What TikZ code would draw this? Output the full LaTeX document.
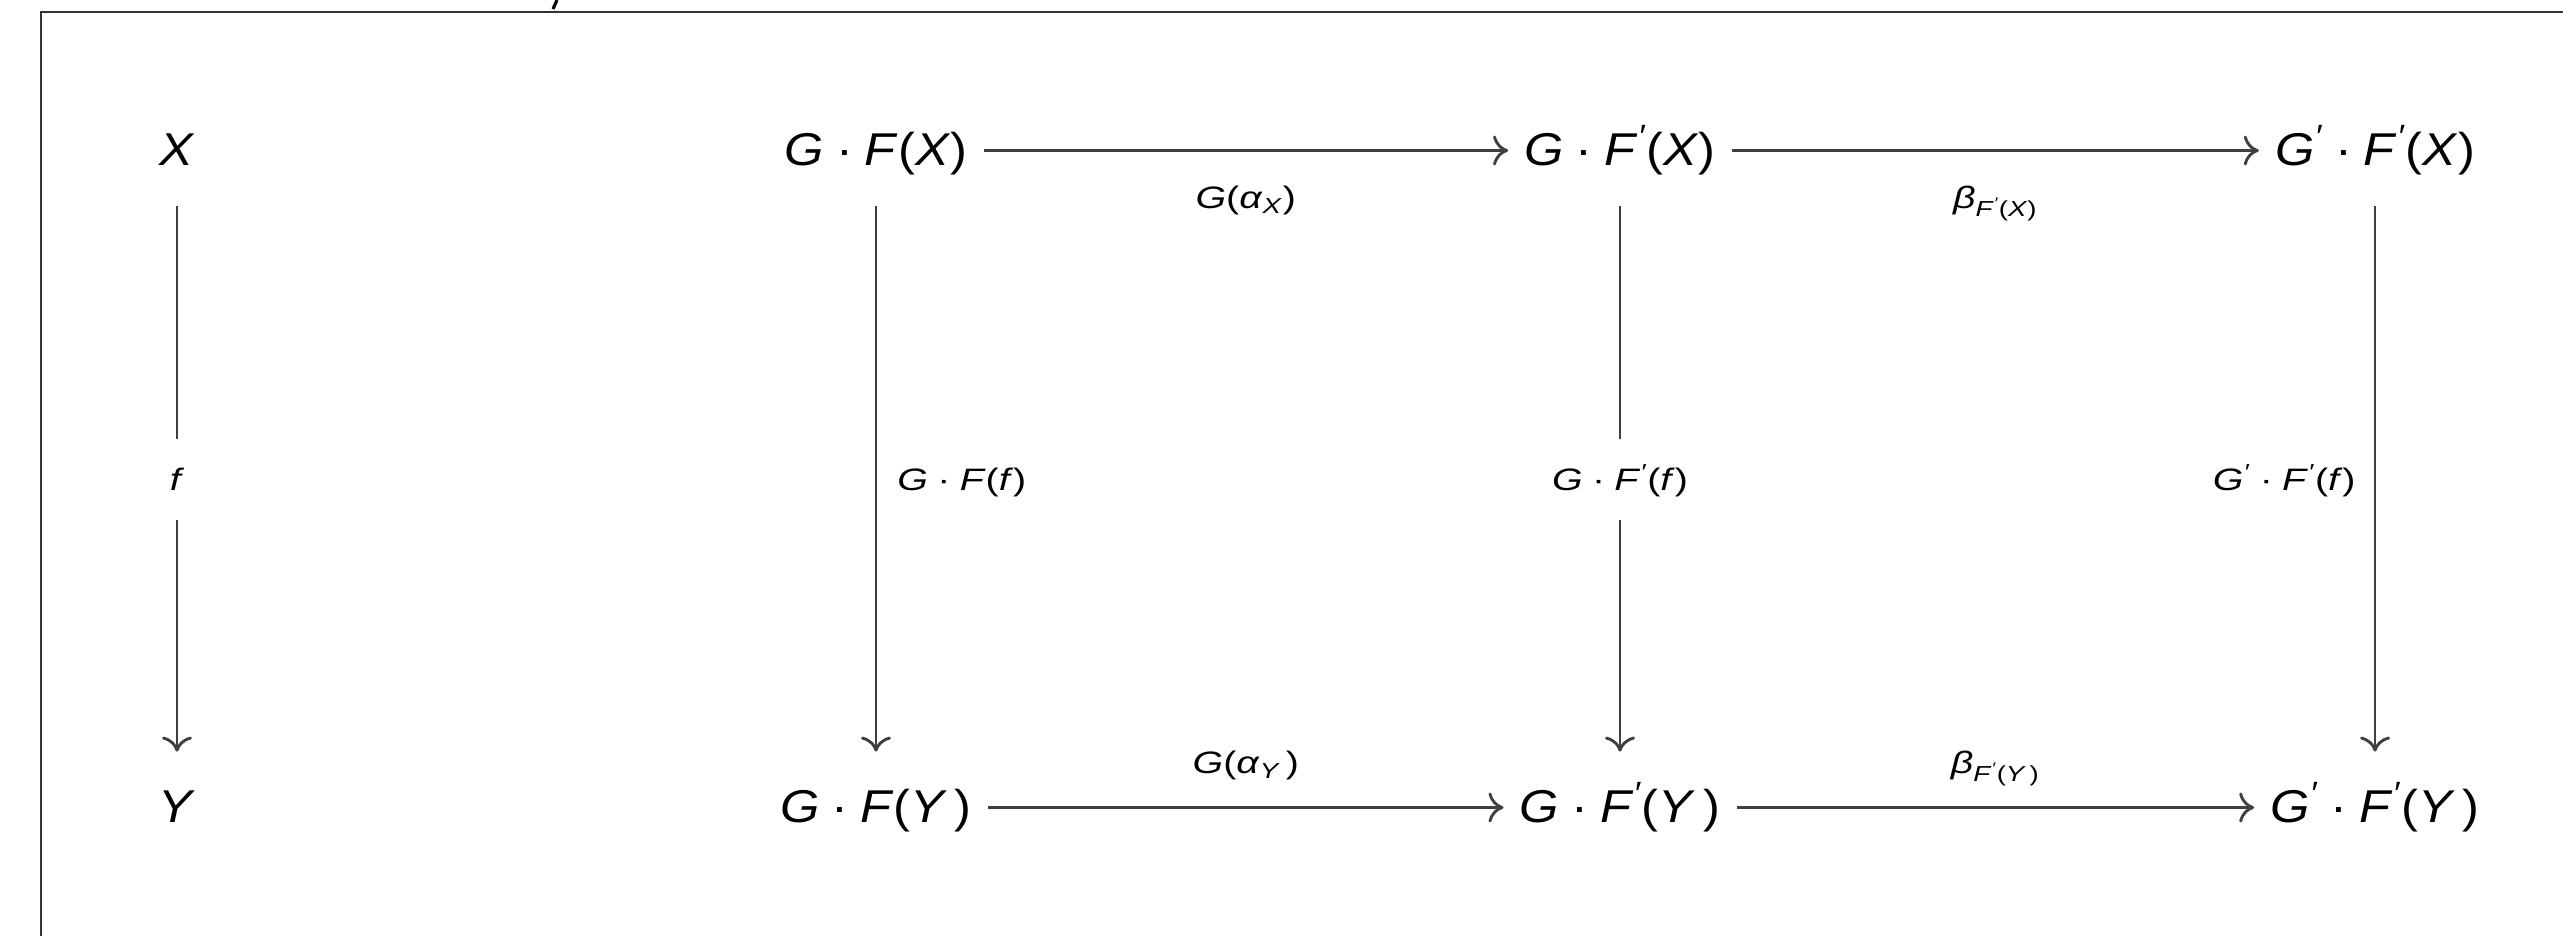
\documentclass[tikz,border=0pt]{standalone}
\usepackage{fontspec}
\setmainfont{Liberation Sans}
\newfontfamily\objfont{Liberation Sans}[FakeStretch=1.1]
\newfontfamily\labfont{Liberation Sans}[FakeStretch=1.27]
\usetikzlibrary{arrows.meta}
\newcommand{\I}[1]{\textit{#1}}
\newcommand{\dotop}{\hspace{.26em}·\hspace{.26em}}
\newcommand{\ldotop}{\hspace{.3em}·\hspace{.3em}}
\newcommand{\pr}{\textsuperscript{\textit{′}}}
\tikzset{
  obj/.style={anchor=base, font=\objfont\fontsize{23}{28}\selectfont, text height=25.25pt, text depth=10.25pt, inner ysep=10pt, inner xsep=8pt},
  lab/.style={font=\labfont\fontsize{15.5}{19}\selectfont, inner sep=0pt, text height=11.1pt, text depth=0pt},
  desc/.style={lab, fill=white, minimum height=40.5pt, anchor=center},
  arr/.style={draw=black!75, line width=1.45pt, -{Computer Modern Rightarrow[length=7.5pt,width=15pt]}},
  frameline/.style={draw=black!80, line width=1pt}
}
\begin{document}
\begin{tikzpicture}[x=0.5pt, y=-0.5pt]
\useasboundingbox (0,0) rectangle (2563,936);
\draw[frameline] (41,936) -- (41,12) -- (2563,12);
\draw[line width=1.6pt] (557,0) -- (553,9);

\node[obj] (X) at (177,165.5) {\I{X}};
\node[obj] (Y) at (177,822.5) {\I{Y}};
\node[obj] (GFX) at (876,165.5) {\I{G}\dotop\I{F}(\I{X})};
\node[obj] (GFpX) at (1620,165.5) {\I{G}\dotop\I{F}\pr(\I{X})};
\node[obj] (GpFpX) at (2375,165.5) {\I{G}\pr\dotop\I{F}\pr(\I{X})};
\node[obj] (GFY) at (876,822.5) {\I{G}\dotop\I{F}(\I{Y}\,)};
\node[obj] (GFpY) at (1620,822.5) {\I{G}\dotop\I{F}\pr(\I{Y}\,)};
\node[obj] (GpFpY) at (2375,822.5) {\I{G}\pr\dotop\I{F}\pr(\I{Y}\,)};

\draw[arr] (X.south) -- node[desc] {\I{f}} (Y.north);
\draw[arr] (GFX.south) -- node[lab, anchor=west, inner xsep=10pt] {\I{G}\ldotop\I{F}(\I{f})} (GFY.north);
\draw[arr] (GFpX.south) -- node[desc] {\I{G}\ldotop\I{F}\pr(\I{f})} (GFpY.north);
\draw[arr] (GpFpX.south) -- node[lab, anchor=east, inner xsep=9pt] {\I{G}\pr\ldotop\I{F}\pr(\I{f})} (GpFpY.north);

\draw[arr] (GFX.east) -- node[lab, below=17pt] {\I{G}(\I{α}\textsubscript{\I{X}})} (GFpX.west);
\draw[arr] (GFpX.east) -- node[lab, below=17pt] {\I{β}\textsubscript{\I{F}\pr(\I{X})}} (GpFpX.west);
\draw[arr] (GFY.east) -- node[lab, above=16.5pt] {\I{G}(\I{α}\textsubscript{\I{Y}}\,)} (GFpY.west);
\draw[arr] (GFpY.east) -- node[lab, above=16.5pt] {\I{β}\textsubscript{\I{F}\pr(\I{Y}\,)}} (GpFpY.west);
\end{tikzpicture}
\end{document}
